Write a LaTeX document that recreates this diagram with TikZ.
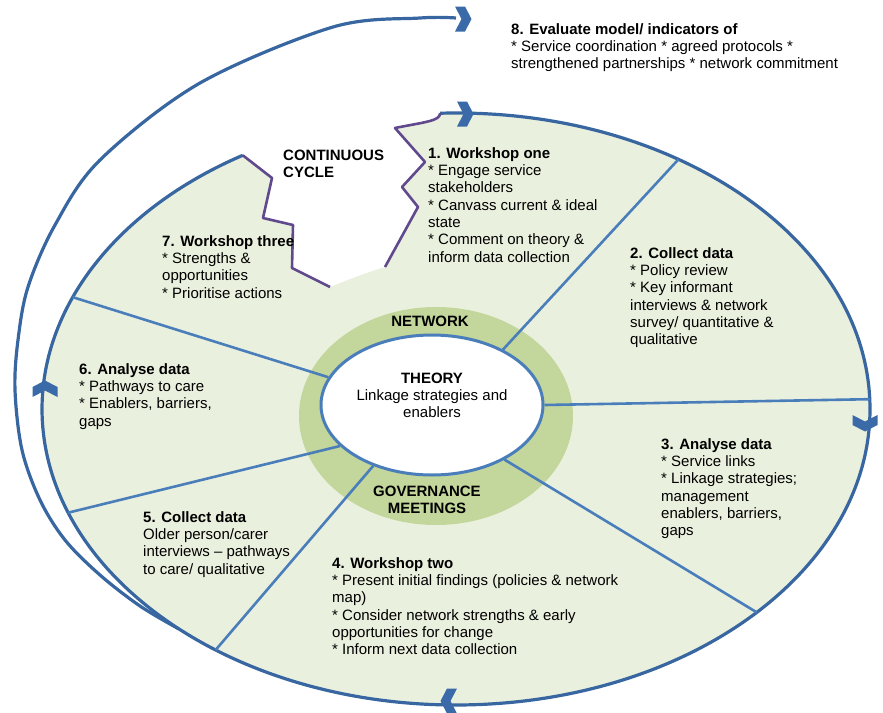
\documentclass[tikz,border=0pt]{standalone}
\usepackage{fontspec}
\setmainfont{Liberation Sans}
\usetikzlibrary{calc,shapes.geometric}
\definecolor{lgreen}{RGB}{234,240,222}
\definecolor{rgreen}{RGB}{195,214,155}
\definecolor{oblue}{RGB}{56,102,160}
\definecolor{dblue}{RGB}{74,126,187}
\definecolor{purp}{RGB}{96,73,140}
\definecolor{cblue}{RGB}{58,106,168}
\begin{document}
\begin{tikzpicture}[x=1pt,y=-1pt,
  txt/.style={anchor=north west, inner sep=0pt, align=left, font=\fontsize{15}{17.3}\selectfont},
  ctxt/.style={anchor=north, inner sep=0pt, align=center, font=\fontsize{15}{17.3}\selectfont},
  rim/.style={draw=oblue, line width=3.2pt},
  divider/.style={draw=dblue, line width=2.6pt},
  notch/.style={draw=purp, line width=2.6pt, line join=round},
  chev/.pic={\fill[cblue] (-7,-12.5) -- (3,-12.5) -- (9.5,0) -- (3,12.5) -- (-7,12.5) -- (-0.5,0) -- cycle;}
]
\useasboundingbox (0,0) rectangle (883,712);
\coordinate (C) at (456,409);
% outer evaluation loop
\draw[rim] plot[smooth,tension=0.55] coordinates {(179,629) (140,606) (100,575) (65,540) (40,500) (22,450) (15,390) (18,340) (28,287) (55,225) (100,160) (200,83) (333,27) (420,18) (456,18)};
% main green area with notch
\coordinate (nR) at ($(C)+(-92.2:414 and 296)$);
\coordinate (nL) at ($(C)+(239:414 and 296)$);
\coordinate (L1) at (272,178);
\coordinate (L2) at (263,218);
\coordinate (L3) at (293,225);
\coordinate (L4) at (292,268);
\coordinate (L5) at (330,287);
\coordinate (R1) at (385,267);
\coordinate (R2) at (418,207);
\coordinate (R3) at (402,187);
\coordinate (R4) at (425,162);
\coordinate (R5) at (395,128);
\fill[lgreen] (nR) arc[start angle=-92.2, end angle=239, x radius=414, y radius=296]
  -- (L1) -- (L2) -- (L3) -- (L4) -- (L5) .. controls (350,279) and (368,272) .. (R1)
  -- (R2) -- (R3) -- (R4) -- (R5) .. controls (425,122) and (440,121) .. (nR) -- cycle;
\draw[rim] (nR) arc[start angle=-92.2, end angle=239, x radius=414, y radius=296];
\draw[notch] (nL) -- (L1) -- (L2) -- (L3) -- (L4) -- (L5);
\draw[notch] (R1) -- (R2) -- (R3) -- (R4) -- (R5) .. controls (425,122) and (440,121) .. (nR);
% ring and theory
\fill[rgreen] (436,416) ellipse[x radius=137, y radius=109];
\node[draw=dblue, line width=3pt, fill=white, ellipse, minimum width=222, minimum height=140, inner sep=0pt] (theory) at (432,405) {};
% dividers
\coordinate (o1) at ($(C)+(-57.5:414 and 296)$);
\coordinate (o2) at ($(C)+(-1.9:414 and 296)$);
\coordinate (o3) at ($(C)+(43.4:414 and 296)$);
\coordinate (o4) at ($(C)+(125.5:414 and 296)$);
\coordinate (o5) at ($(C)+(159.5:414 and 296)$);
\coordinate (o6) at ($(C)+(202.2:414 and 296)$);
\draw[divider] (theory.38.8) -- (o1);
\draw[divider] (theory.0) -- (o2);
\draw[divider] (theory.-37) -- (o3);
\draw[divider] (theory.-134.5) -- (o4);
\draw[divider] (theory.-156) -- (o5);
\draw[divider] (theory.165.6) -- (o6);
% chevrons
\pic (cA) at (462,19) {chev};
\pic (cB) at (464,114) {chev};
\pic[rotate=-90] (cC) at (865,422) {chev};
\pic[rotate=180] (cD) at (450,701) {chev};
\pic[rotate=90] (cE) at (45,390) {chev};
% texts
\node[txt] (t8) at (511,21.9) {\strut\textbf{8. Evaluate model/ indicators of}\\{}* Service coordination * agreed protocols *\\strengthened partnerships * network commitment};
\node[txt] (t1) at (428,145.9) {\strut\textbf{1. Workshop one}\\{}* Engage service\\stakeholders\\{}* Canvass current \& ideal\\state\\{}* Comment on theory \&\\inform data collection};
\node[txt] (t2) at (630,245.9) {\strut\textbf{2. Collect data}\\{}* Policy review\\{}* Key informant\\interviews \& network\\survey/ quantitative \&\\qualitative};
\node[txt] (t3) at (661,436.9) {\strut\textbf{3. Analyse data}\\{}* Service links\\{}* Linkage strategies;\\management\\enablers, barriers,\\gaps};
\node[txt] (t4) at (332,555.9) {\strut\textbf{4. Workshop two}\\{}* Present initial findings (policies \& network\\map)\\{}* Consider network strengths \& early\\opportunities for change\\{}* Inform next data collection};
\node[txt] (t5) at (143,509.9) {\strut\textbf{5. Collect data}\\Older person/carer\\interviews – pathways\\to care/ qualitative};
\node[txt] (t6) at (79,361.9) {\strut\textbf{6. Analyse data}\\{}* Pathways to care\\{}* Enablers, barriers,\\gaps};
\node[txt] (t7) at (162,233.9) {\strut\textbf{7. Workshop three}\\{}* Strengths \&\\opportunities\\{}* Prioritise actions};
\node[txt, font=\fontsize{15}{17.3}\selectfont\bfseries] (cc) at (283,147.9) {\strut CONTINUOUS\\CYCLE};
\node[anchor=base, inner sep=0pt, font=\fontsize{15}{17.3}\selectfont\bfseries] (net) at (430,326) {NETWORK};
\node[ctxt] (th) at (432,370.9) {\strut\textbf{THEORY}\\Linkage strategies and\\enablers};
\node[ctxt, font=\fontsize{15}{17.3}\selectfont\bfseries] (gov) at (427,483.9) {\strut GOVERNANCE\\MEETINGS};
\end{tikzpicture}
\end{document}
